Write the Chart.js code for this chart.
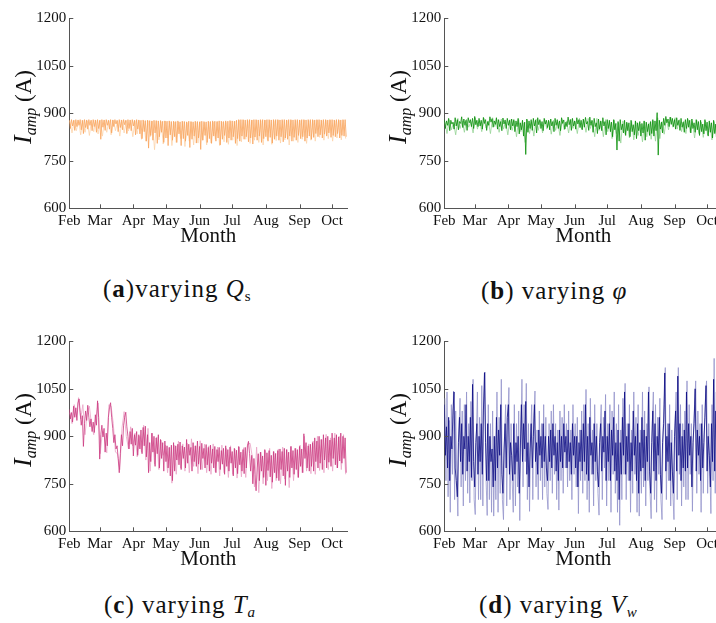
<!DOCTYPE html>
<html>
<head>
<meta charset="utf-8">
<script src="https://cdn.jsdelivr.net/npm/chart.js@4.4.0/dist/chart.umd.min.js"></script>
<style>
  html, body { margin: 0; padding: 0; background: #fff; }
  body { width: 716px; height: 623px; overflow: hidden; position: relative;
         font-family: "Liberation Serif", "Times New Roman", serif; color: #111; }
  canvas.panel { position: absolute; }
  .ylab { position: absolute; transform: translate(-50%, -50%) rotate(-90deg);
          white-space: nowrap; font-size: 23px; line-height: 1; }
  .ylab .I { font-style: italic; font-size: 26px; }
  .ylab sub { font-style: italic; font-size: 16px; vertical-align: -5px; }
  .cap { position: absolute; white-space: nowrap; font-size: 25px; line-height: 1;
         letter-spacing: 1px; transform: translateY(-50%); }
  .cap sub { font-size: 15px; vertical-align: -4px; letter-spacing: 0; }
</style>
</head>
<body>

<canvas id="pa" class="panel" width="360" height="260" style="left:0px;top:0px"></canvas>
<canvas id="pb" class="panel" width="360" height="260" style="left:375.4px;top:0px"></canvas>
<canvas id="pc" class="panel" width="360" height="260" style="left:0px;top:323px"></canvas>
<canvas id="pd" class="panel" width="360" height="260" style="left:375.4px;top:323px"></canvas>

<div class="ylab" style="left:24px;top:107px"><span class="I">I</span><sub>amp</sub> (A)</div>
<div class="ylab" style="left:399.4px;top:107px"><span class="I">I</span><sub>amp</sub> (A)</div>
<div class="ylab" style="left:24px;top:430px"><span class="I">I</span><sub>amp</sub> (A)</div>
<div class="ylab" style="left:399.4px;top:430px"><span class="I">I</span><sub>amp</sub> (A)</div>

<div class="cap" style="left:103px;top:290px">(<b>a</b>)varying <i>Q</i><sub>s</sub></div>
<div class="cap" style="left:481px;top:290px">(<b>b</b>) varying <i>φ</i></div>
<div class="cap" style="left:104px;top:606px">(<b>c</b>) varying <i>T</i><sub><i>a</i></sub></div>
<div class="cap" style="left:479px;top:606px">(<b>d</b>) varying <i>V</i><sub><i>w</i></sub></div>

<script>
// Month axis: day offsets from 1 February and their labels
const monthNames = ['Feb', 'Mar', 'Apr', 'May', 'Jun', 'Jul', 'Aug', 'Sep', 'Oct'];
const monthStartDays = [0, 28, 59, 89, 120, 150, 181, 212, 242];
const lastDay = 256;

// Current-rating axis (A)
const ampMin = 600, ampMax = 1200, ampStep = 150;

// Sampling: main trace daily; secondary trace half a day later
const darkStepDays = 1;
const lightOffsetDays = 0.5;

// (a) varying solar radiation Qs
const qsDark = [
  879,852,880,860,878,846,880,858,879,862,880,848,878,836,880,855,879,850,880,862,878,845,880,858,879,840,880,852,878,818,880,856,
  879,846,880,862,878,850,880,838,879,858,880,866,878,842,880,855,879,848,880,864,878,836,880,852,879,845,880,860,878,832,880,850,
  879,835,878,820,879,842,877,812,878,790,877,830,876,815,878,838,877,805,876,826,877,840,875,808,876,822,875,798,876,832,874,815,
  875,826,874,808,876,835,873,798,875,820,874,812,873,830,875,792,874,818,873,828,875,806,874,822,873,786,875,815,874,830,873,808,
  875,820,874,805,876,828,875,812,874,822,876,800,875,818,874,830,876,808,875,822,877,815,876,826,875,805,878,820,880,812,880,828,
  880,818,879,826,880,810,880,822,879,803,880,825,880,815,879,828,880,808,880,820,879,826,880,812,880,824,879,806,880,818,880,828,
  880,815,879,826,880,810,880,822,879,818,880,828,880,812,879,824,880,815,880,830,879,820,880,826,880,812,879,822,880,828,880,818,
  880,824,879,836,880,826,880,832,879,822,880,834,880,828,879,838,880,824,880,830,879,826,880,836,880,822,879,830,880,828,880,826
];
const qsLight = [
  876,838,878,845,877,832,878,840,876,830,878,842,877,835,878,828,
  878,840,877,832,878,845,876,828,878,838,877,844,878,826,877,835,
  877,818,876,812,877,826,875,785,876,816,874,803,875,822,874,798,
  873,808,872,820,874,795,871,812,873,800,872,806,874,815,871,800,
  873,806,872,818,874,798,873,810,871,802,874,815,875,798,878,810,
  878,818,877,805,878,815,878,808,877,800,878,816,878,802,877,814,
  878,806,877,816,878,800,878,812,877,808,878,818,878,805,877,815,
  878,812,878,824,877,815,878,820,878,812,877,822,878,816,878,820
];
const qsLightStepDays = 2;

// (b) varying wind angle phi
const phiDark = [
  880,852,876,862,884,845,878,866,872,850,886,860,880,848,874,868,889,855,882,862,878,846,886,870,880,858,884,852,890,864,878,858,
  884,860,878,850,887,868,880,846,874,862,889,872,883,856,876,865,886,850,880,858,874,845,885,866,879,852,884,862,878,848,882,860,
  880,842,876,858,884,835,870,848,878,828,872,770,882,840,876,852,880,846,884,860,878,838,886,864,880,852,874,845,884,866,878,855,
  878,848,882,860,874,842,884,862,880,852,876,845,886,868,879,850,872,858,888,864,880,846,884,860,876,850,886,866,880,855,878,848,
  882,856,887,866,874,846,888,862,878,840,884,858,870,836,882,850,876,845,886,860,874,832,880,852,878,842,872,826,880,848,868,784,
  874,812,880,848,866,838,878,830,872,845,870,826,878,842,864,832,876,820,870,845,874,828,868,838,876,815,872,842,866,830,874,836,
  880,828,876,845,902,768,878,850,872,838,884,862,890,870,882,858,888,865,884,858,880,850,886,862,878,846,884,856,872,840,880,852,
  884,856,878,838,882,852,870,840,880,848,874,830,878,842,866,835,880,845,872,828,876,840,870,822,878,836,866,818,874,830,870,812
];
const phiLight = [
  872,836,880,848,870,832,884,852,876,840,882,856,874,838,886,850,
  878,842,884,854,876,836,886,858,880,840,882,850,874,832,880,846,
  876,826,880,842,870,808,878,836,874,828,882,846,876,838,880,850,
  874,834,878,846,872,830,880,848,876,838,882,852,874,836,884,850,
  878,840,884,852,876,826,884,846,874,826,880,842,872,820,878,836,
  870,806,876,834,868,822,874,816,872,830,866,810,874,826,870,818,
  876,812,886,820,874,834,882,848,888,856,886,850,880,842,876,836,
  880,840,874,822,878,836,872,824,876,832,870,816,874,826,868,808
];
const phiLightStepDays = 2;

// (c) varying ambient temperature Ta
const taDark = [
  985,955,975,945,995,960,990,950,1005,1018,975,935,965,868,940,980,950,998,960,930,955,915,945,912,968,935,1012,960,828,905,935,898,
  925,850,910,870,960,990,1006,960,925,880,905,860,870,830,785,845,905,870,935,960,976,930,900,860,915,875,925,838,905,872,915,840,
  905,860,920,845,928,870,932,835,905,785,880,820,910,850,900,805,895,845,905,800,890,830,880,790,885,820,870,800,865,775,872,760,
  880,790,870,825,875,810,882,795,870,830,866,800,890,815,875,840,865,790,880,820,870,805,885,812,868,795,878,830,862,800,874,810,
  865,790,872,815,860,800,868,785,858,820,865,795,855,812,862,780,870,805,858,790,866,815,852,775,862,800,856,782,868,810,850,790,
  858,782,865,800,870,884,845,790,840,750,830,780,728,800,845,760,850,790,838,770,858,745,848,792,855,772,840,755,852,785,846,768,
  855,760,860,795,852,775,862,745,858,790,850,770,868,800,855,780,862,795,858,770,868,805,860,785,908,830,880,800,870,790,875,805,
  880,790,895,820,885,800,900,815,890,795,905,825,895,800,900,818,888,805,910,830,895,810,905,800,898,822,910,815,900,830,895,785
];
const taLight = [
  975,940,1000,960,1022,955,1000,905,975,995,935,905,955,1005,845,915,
  895,848,1000,995,940,850,845,795,925,978,900,860,930,870,910,835,
  900,850,935,825,925,790,910,812,898,795,888,840,872,785,865,752,
  872,780,885,800,876,790,878,785,892,805,870,782,886,795,875,785,
  870,780,876,788,866,775,872,785,862,770,870,780,860,768,866,772,
  864,770,875,878,836,740,866,722,850,750,855,760,862,735,852,760,
  860,750,866,765,858,738,868,760,862,770,872,785,900,790,876,782,
  885,780,900,792,890,785,906,795,895,790,910,800,900,795,905,780
];
const taLightStepDays = 2;

// (d) varying wind speed Vw
const vwDark = [
  1000,840,930,800,960,760,900,860,980,1040,800,760,709,880,960,820,940,780,900,860,1000,790,900,820,960,770,1064,820,740,880,940,780,
  900,820,940,780,980,1101,880,760,940,760,900,820,860,740,900,760,960,800,920,840,1000,780,720,860,940,800,960,1000,780,880,840,760,
  940,780,880,820,900,720,860,1000,820,940,860,1010,780,880,740,860,940,800,900,1000,820,880,780,920,840,900,800,940,820,900,800,760,
  900,820,920,800,940,840,900,790,880,760,920,820,900,800,940,850,900,800,920,820,880,780,940,840,900,800,900,740,880,820,920,790,
  940,820,1000,780,900,760,960,840,880,780,940,820,900,790,740,880,940,790,900,850,980,760,900,820,940,760,920,840,960,790,880,760,
  920,700,880,780,960,840,1040,780,900,820,940,760,880,790,980,840,900,760,940,720,880,790,960,800,920,760,900,820,1040,790,720,880,
  980,790,940,760,900,840,960,780,720,880,940,1100,790,900,820,940,760,880,790,720,900,980,790,1090,840,940,760,900,800,920,790,1040,
  800,940,840,900,740,880,940,1050,790,920,840,900,760,940,800,880,960,1060,790,900,840,740,940,820,1080,790,980,840,920,790,980,840
];
const vwLight = [
  1020,760,1040,709,950,660,1000,780,1043,700,980,760,648,920,1020,740,980,680,1000,760,1040,720,940,690,1010,760,1080,700,653,900,1040,700,
  960,700,1060,680,1000,1103,760,650,1000,700,940,660,980,648,900,700,1040,660,960,720,1080,700,637,900,1000,680,960,1054,700,940,760,660,
  1000,680,940,740,980,634,900,1080,740,1000,820,1067,700,940,663,900,1000,700,960,1043,740,920,700,980,760,940,700,1000,740,960,720,669,
  940,760,980,720,1000,780,940,700,920,667,980,760,960,720,1000,800,940,740,980,760,920,700,1000,780,940,740,960,656,920,760,980,720,
  1000,760,1048,700,940,660,1020,780,920,680,1000,760,940,720,651,920,1000,700,960,800,1032,680,940,760,1000,660,980,780,1040,720,940,660,
  1000,619,920,700,1020,780,1067,700,940,760,1000,660,920,720,1040,780,960,660,1000,648,920,720,1040,740,980,680,940,760,1056,720,640,940,
  1040,700,1000,660,960,780,1020,700,637,920,1000,1117,700,940,760,1000,680,920,720,637,940,1040,700,1117,780,1000,680,940,740,980,700,1075,
  700,1000,780,940,663,920,1000,1075,720,980,780,940,660,1000,720,920,1020,1075,720,940,800,656,1000,760,1146,720,1040,780,980,720,1040,800
];
const vwLightStepDays = 1;

const FONT = '"Liberation Serif", "Times New Roman", serif';

function toPoints(values, stepDays, offsetDays) {
  return values.map((v, i) => ({ x: i * stepDays + offsetDays, y: v }));
}

// Short tick marks drawn inside the plot area, at the scales' own tick positions
const innerTicks = {
  id: 'innerTicks',
  afterDraw(chart) {
    const { ctx, chartArea: a, scales: { x, y } } = chart;
    ctx.save();
    ctx.strokeStyle = '#555';
    ctx.lineWidth = 1;
    ctx.beginPath();
    x.ticks.forEach(t => {
      const px = Math.round(x.getPixelForValue(t.value)) + 0.5;
      ctx.moveTo(px, a.bottom);
      ctx.lineTo(px, a.bottom - 4);
    });
    y.ticks.forEach(t => {
      const py = Math.round(y.getPixelForValue(t.value)) + 0.5;
      ctx.moveTo(a.left, py);
      ctx.lineTo(a.left + 4, py);
    });
    ctx.stroke();
    ctx.restore();
  }
};

function makePanel(id, dark, light, lightStep, darkColor, lightColor) {
  new Chart(document.getElementById(id), {
    type: 'line',
    data: {
      datasets: [
        { data: toPoints(dark, darkStepDays, 0), borderColor: darkColor, borderWidth: 0.8,
          pointRadius: 0, tension: 0, fill: false },
        { data: toPoints(light, lightStep, lightOffsetDays), borderColor: lightColor, borderWidth: 0.8,
          pointRadius: 0, tension: 0, fill: false }
      ]
    },
    options: {
      responsive: false,
      animation: false,
      events: [],
      layout: { padding: { top: 18.3, right: 12.7, left: 0, bottom: 0 } },
      plugins: { legend: { display: false }, tooltip: { enabled: false } },
      scales: {
        x: {
          type: 'linear',
          min: 0,
          max: lastDay,
          afterBuildTicks: s => { s.ticks = monthStartDays.map(v => ({ value: v })); },
          afterFit: s => { s.height = 51.7; },
          grid: { display: false, drawTicks: false },
          border: { display: true, color: '#555', width: 1 },
          ticks: {
            autoSkip: false, maxRotation: 0, minRotation: 0, padding: 4,
            color: '#111', font: { family: FONT, size: 15 },
            callback: (v, i) => monthNames[i]
          },
          title: {
            display: true, text: 'Month', color: '#111',
            font: { family: FONT, size: 21, lineHeight: 1.2 },
            padding: { top: 0, bottom: 11 }
          }
        },
        y: {
          min: ampMin,
          max: ampMax,
          afterFit: s => { s.width = 69.3; },
          grid: { display: false, drawTicks: false },
          border: { display: true, color: '#555', width: 1 },
          ticks: {
            stepSize: ampStep, padding: 3,
            color: '#111', font: { family: FONT, size: 15 },
            callback: v => String(v)
          }
        }
      }
    },
    plugins: [innerTicks]
  });
}

makePanel('pa', qsDark, qsLight, qsLightStepDays, '#f9a55e', '#fdd3aa');
makePanel('pb', phiDark, phiLight, phiLightStepDays, '#078f07', '#94d394');
makePanel('pc', taDark, taLight, taLightStepDays, '#cc3a80', '#eaa3c7');
makePanel('pd', vwDark, vwLight, vwLightStepDays, '#0c0c84', '#9494cc');
</script>
</body>
</html>
